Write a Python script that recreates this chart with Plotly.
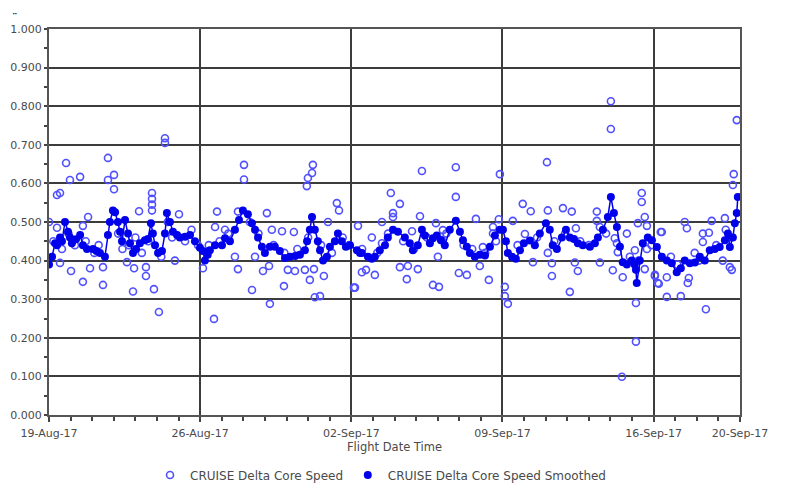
import pandas as pd
import plotly.graph_objects as go

start_date = "2017-08-19"

# Raw series: (day offset from 19-Aug-17, value)
raw_days = [
    0.0, 0.37, 0.51, 0.79, 0.97, 1.44, 2.73, 2.73, 3.01, 3.01, 5.37, 5.37, 4.77, 4.77, 4.77, 4.77,
    4.17, 6.02, 1.81, 0.37, 1.57, 1.02, 1.90, 1.57, 2.50, 2.50, 3.89, 4.86, 5.09, 4.49, 4.49, 3.94,
    3.61, 5.83, 7.13, 0.51,
    0.2, 0.6, 0.9, 1.2, 1.7, 2.1, 2.3, 3.2, 3.4, 3.7, 4.0, 4.3, 4.6, 5.2, 5.5, 5.7, 6.3, 6.6, 6.9,
    9.03, 9.03, 12.22, 12.18, 11.99, 11.94, 13.33, 13.43, 7.78, 8.75, 10.09, 12.92, 14.31, 7.69, 8.15,
    10.32, 10.79, 11.34, 8.61, 9.54, 8.75, 9.91, 10.19, 11.06, 11.39, 11.85, 12.27, 12.73, 12.08,
    10.88, 9.40, 12.31, 12.55, 10.23, 14.17, 14.49, 7.64,
    7.4, 7.9, 8.3, 9.3, 9.7, 10.4, 10.9, 11.5, 12.0, 12.6, 13.1, 13.6, 13.9,
    17.27, 18.84, 20.88, 15.83, 18.84, 16.25, 15.93, 15.93, 17.18, 19.77, 20.83, 15.42, 17.92, 20.56,
    20.56, 16.81, 18.24, 14.95, 15.42, 18.19, 20.09, 18.01, 16.25, 16.62, 17.08, 14.68, 15.09, 18.98,
    19.35, 19.95, 16.57, 20.37, 17.78, 18.06, 14.12, 21.11, 21.11, 21.25,
    14.5, 15.2, 15.7, 16.4, 16.9, 17.5, 18.4, 19.2, 19.6, 20.2, 20.7,
    26.02, 26.02, 23.06, 27.45, 27.45, 21.94, 22.31, 23.10, 23.80, 24.21, 25.37, 27.59, 21.48, 25.37,
    27.27, 27.69, 25.51, 24.40, 28.33, 26.76, 22.04, 26.20, 26.30, 27.13, 26.34, 23.10, 27.69, 22.41,
    23.29, 24.35, 25.51, 26.11, 24.49, 26.57, 23.29, 27.59, 28.06, 28.24, 24.12, 27.18, 27.18, 26.53,
    21.7, 22.6, 23.4, 23.9, 24.6, 25.0, 25.8, 26.9, 27.3, 27.9,
    31.85, 31.71, 31.67, 28.38, 29.44, 29.54, 30.69, 30.28, 30.56, 30.28, 31.30, 31.34, 28.06, 28.19,
    28.61, 28.61, 29.26, 29.63, 29.58, 30.42, 31.20, 31.53, 31.62,
    28.8, 29.1, 29.9, 30.1, 30.9, 31.5,
]
raw_values = [
    0.50, 0.57, 0.575, 0.653, 0.609, 0.617, 0.666, 0.609, 0.622, 0.585, 0.717, 0.705, 0.575, 0.56, 0.545, 0.53,
    0.528, 0.52, 0.513, 0.485, 0.49, 0.373, 0.38, 0.345, 0.383, 0.337, 0.32, 0.326, 0.267, 0.383, 0.36, 0.38,
    0.396, 0.40, 0.38, 0.394,
    0.45, 0.43, 0.47, 0.44, 0.45, 0.42, 0.44, 0.47, 0.43, 0.44, 0.46, 0.42, 0.45, 0.41, 0.50, 0.46, 0.45, 0.48, 0.44,
    0.648, 0.61, 0.648, 0.627, 0.614, 0.593, 0.549, 0.53, 0.527, 0.527, 0.523, 0.50, 0.49, 0.487, 0.48,
    0.48, 0.476, 0.474, 0.41, 0.41, 0.378, 0.373, 0.386, 0.376, 0.373, 0.376, 0.378, 0.36, 0.35,
    0.334, 0.324, 0.305, 0.308, 0.288, 0.33, 0.37, 0.249,
    0.44, 0.45, 0.47, 0.50, 0.47, 0.44, 0.42, 0.43, 0.46, 0.44, 0.42, 0.46, 0.44,
    0.632, 0.642, 0.624, 0.575, 0.565, 0.547, 0.523, 0.513, 0.515, 0.508, 0.507, 0.50, 0.497, 0.487,
    0.47, 0.476, 0.479, 0.46, 0.445, 0.453, 0.435, 0.41, 0.383, 0.386, 0.378, 0.376, 0.363, 0.368,
    0.363, 0.386, 0.352, 0.35, 0.337, 0.332, 0.33, 0.332, 0.308, 0.288,
    0.43, 0.42, 0.47, 0.45, 0.43, 0.46, 0.47, 0.44, 0.43, 0.42, 0.45,
    0.813, 0.741, 0.655, 0.575, 0.552, 0.547, 0.528, 0.53, 0.536, 0.527, 0.527, 0.513, 0.503, 0.503,
    0.497, 0.49, 0.487, 0.484, 0.474, 0.47, 0.469, 0.458, 0.445, 0.427, 0.422, 0.42, 0.43, 0.396,
    0.393, 0.395, 0.395, 0.375, 0.373, 0.357, 0.36, 0.378, 0.36, 0.34, 0.319, 0.29, 0.19, 0.099,
    0.44, 0.46, 0.45, 0.47, 0.45, 0.44, 0.47, 0.41, 0.40, 0.44,
    0.764, 0.624, 0.596, 0.474, 0.50, 0.484, 0.503, 0.47, 0.472, 0.448, 0.51, 0.48, 0.363, 0.342,
    0.357, 0.306, 0.308, 0.355, 0.342, 0.274, 0.40, 0.383, 0.376,
    0.41, 0.39, 0.42, 0.40, 0.44, 0.46,
]

# Smoothed series
smooth_days = [
    0.0, 0.14, 0.28, 0.37, 0.51, 0.60, 0.74, 0.88, 0.97, 1.06, 1.25, 1.44, 1.57, 1.76, 2.04, 2.20, 2.36,
    2.59, 2.73, 2.82, 2.96, 3.06, 3.19, 3.29, 3.38, 3.52, 3.66, 3.75, 3.89, 4.03, 4.21, 4.44, 4.58, 4.72,
    4.81, 4.91, 5.05, 5.23, 5.37, 5.46, 5.60, 5.74, 5.93, 6.06, 6.30, 6.53, 6.76, 6.99, 7.13,
    7.22, 7.35, 7.45, 7.69, 8.01, 8.15, 8.38, 8.61, 8.80, 8.98, 9.21, 9.40, 9.54, 9.68, 9.86, 10.0, 10.23,
    10.46, 10.69, 10.93, 11.16, 11.40, 11.62, 11.85, 11.95, 12.08, 12.18, 12.31, 12.45, 12.55, 12.69,
    12.87, 13.01, 13.24, 13.38, 13.56, 13.75, 13.94, 14.26, 14.40,
    14.49, 14.77, 14.95, 15.09, 15.32, 15.56, 15.69, 15.93, 16.16, 16.48, 16.71, 16.85, 17.08, 17.27,
    17.41, 17.64, 17.78, 17.96, 18.15, 18.33, 18.56, 18.84, 19.03, 19.17, 19.35, 19.49, 19.72, 19.95,
    20.19, 20.42, 20.65, 20.88,
    21.02, 21.16, 21.25, 21.44, 21.62, 21.81, 21.99, 22.27, 22.5, 22.73, 23.01, 23.19, 23.33, 23.52,
    23.75, 23.94, 24.12, 24.31, 24.49, 24.72, 25.05, 25.28, 25.42, 25.65, 25.88, 26.02, 26.16, 26.30,
    26.44, 26.57, 26.76, 26.99, 27.12, 27.18, 27.22, 27.36, 27.50, 27.73,
    27.92, 28.15, 28.38, 28.61, 28.84, 29.07, 29.26, 29.44, 29.68, 29.91, 30.14, 30.37, 30.6, 30.83,
    31.06, 31.30, 31.44, 31.53, 31.67, 31.76, 31.85, 31.90,
]
smooth_values = [
    0.39, 0.41, 0.445, 0.44, 0.46, 0.45, 0.50, 0.475, 0.46, 0.445, 0.455, 0.466, 0.44, 0.43, 0.43, 0.425, 0.42,
    0.41, 0.466, 0.50, 0.53, 0.525, 0.50, 0.475, 0.45, 0.505, 0.47, 0.445, 0.42, 0.43, 0.445, 0.453, 0.456, 0.497,
    0.47, 0.44, 0.42, 0.425, 0.47, 0.523, 0.50, 0.475, 0.466, 0.46, 0.462, 0.466, 0.45, 0.433, 0.425,
    0.40, 0.415, 0.427, 0.44, 0.44, 0.458, 0.45, 0.48, 0.505, 0.53, 0.52, 0.497, 0.48, 0.46, 0.436, 0.42, 0.436,
    0.436, 0.425, 0.407, 0.41, 0.412, 0.415, 0.427, 0.45, 0.48, 0.513, 0.48, 0.45, 0.427, 0.40,
    0.41, 0.436, 0.45, 0.47, 0.45, 0.436, 0.44, 0.427, 0.42,
    0.42, 0.41, 0.405, 0.41, 0.427, 0.44, 0.46, 0.48, 0.475, 0.46, 0.445, 0.427, 0.44, 0.48,
    0.465, 0.445, 0.458, 0.465, 0.453, 0.44, 0.48, 0.503, 0.475, 0.453, 0.436, 0.42, 0.41, 0.415,
    0.413, 0.436, 0.465, 0.48,
    0.48, 0.45, 0.42, 0.41, 0.405, 0.427, 0.445, 0.452, 0.44, 0.47, 0.497, 0.48, 0.44, 0.43,
    0.46, 0.48, 0.46, 0.456, 0.445, 0.44, 0.436, 0.445, 0.46, 0.48, 0.513, 0.565, 0.523, 0.487,
    0.436, 0.396, 0.39, 0.40, 0.39, 0.376, 0.342, 0.40, 0.445, 0.46,
    0.453, 0.435, 0.41, 0.40, 0.393, 0.37, 0.38, 0.40, 0.393, 0.395, 0.41, 0.40, 0.427, 0.43,
    0.435, 0.453, 0.47, 0.435, 0.46, 0.497, 0.523, 0.565,
]

tick_dates = ["2017-08-19", "2017-08-26", "2017-09-02", "2017-09-09", "2017-09-16", "2017-09-20"]
tick_labels = ["19-Aug-17", "26-Aug-17", "02-Sep-17", "09-Sep-17", "16-Sep-17", "20-Sep-17"]
y_ticks = [0.0, 0.1, 0.2, 0.3, 0.4, 0.5, 0.6, 0.7, 0.8, 0.9, 1.0]

base = pd.Timestamp(start_date)
raw_x = [base + pd.Timedelta(days=d) for d in raw_days]
smooth_x = [base + pd.Timedelta(days=d) for d in smooth_days]

BLUE_RAW = "rgb(80,80,255)"
BLUE = "rgb(0,0,235)"
FONT = "DejaVu Sans, Verdana, sans-serif"
TXT = "#4a4a4a"

fig = go.Figure()
fig.add_trace(go.Scatter(
    x=raw_x, y=raw_values, mode="markers", name="CRUISE Delta Core Speed", legend="legend",
    marker=dict(symbol="circle-open", size=7, color=BLUE_RAW, line=dict(width=1.6, color=BLUE_RAW)),
))
fig.add_trace(go.Scatter(
    x=smooth_x, y=smooth_values, mode="lines", showlegend=False, hoverinfo="skip",
    line=dict(color=BLUE, width=1.5),
))
fig.add_trace(go.Scatter(
    x=smooth_x, y=smooth_values, mode="markers", name="CRUISE Delta Core Speed Smoothed", legend="legend2",
    marker=dict(symbol="circle", size=8, color=BLUE),
))

# the page body has an 8px margin, so the figure is 8px smaller and offset
grid_col = "#3c3c3c"
leg_common = dict(orientation="h", xanchor="left", y=-0.1554, yanchor="middle",
                  font=dict(family=FONT, size=12, color=TXT), itemwidth=30,
                  bgcolor="rgba(0,0,0,0)")
fig.update_layout(
    width=784, height=478,
    margin=dict(l=41, r=52, t=21, b=71, autoexpand=False),
    paper_bgcolor="white", plot_bgcolor="white",
    font=dict(family=FONT, size=11, color=TXT),
    showlegend=True,
    legend=dict(x=0.1462, **leg_common),
    legend2=dict(x=0.4324, **leg_common),
    annotations=[dict(text="<b>¨</b>", x=-0.057, y=1.053, xref="paper", yref="paper", showarrow=False,
                      font=dict(family=FONT, size=11, color="#222"), xanchor="left", yanchor="top")],
)

fig.update_xaxes(
    type="date", automargin=False,
    range=[tick_dates[0], tick_dates[-1]],
    tickmode="array", tickvals=tick_dates, ticktext=tick_labels,
    ticks="outside", ticklen=5, tickcolor="#444", tickwidth=1.5,
    ticklabelstandoff=2,
    showgrid=True, gridcolor=grid_col, gridwidth=2,
    showline=True, linecolor="#555", linewidth=2, mirror=True,
    zeroline=False,
    minor=dict(dtick=86400000, ticks="outside", ticklen=4, tickcolor="#444", showgrid=False),
    title=dict(text="Flight Date Time", font=dict(family=FONT, size=11.5, color=TXT), standoff=2),
    tickfont=dict(family=FONT, size=11, color=TXT),
)
fig.update_yaxes(
    range=[0, 1.0], automargin=False,
    tickmode="array", tickvals=y_ticks, ticktext=[f"{v:.3f}" for v in y_ticks],
    ticks="outside", ticklen=3, tickcolor="#444", tickwidth=1.5,
    showgrid=True, gridcolor=grid_col, gridwidth=2,
    showline=True, linecolor="#555", linewidth=2, mirror=True,
    zeroline=False,
    minor=dict(dtick=0.05, ticks="outside", ticklen=3, tickcolor="#444", showgrid=False),
    tickfont=dict(family=FONT, size=11, color=TXT),
)

fig.write_html("out.html")
